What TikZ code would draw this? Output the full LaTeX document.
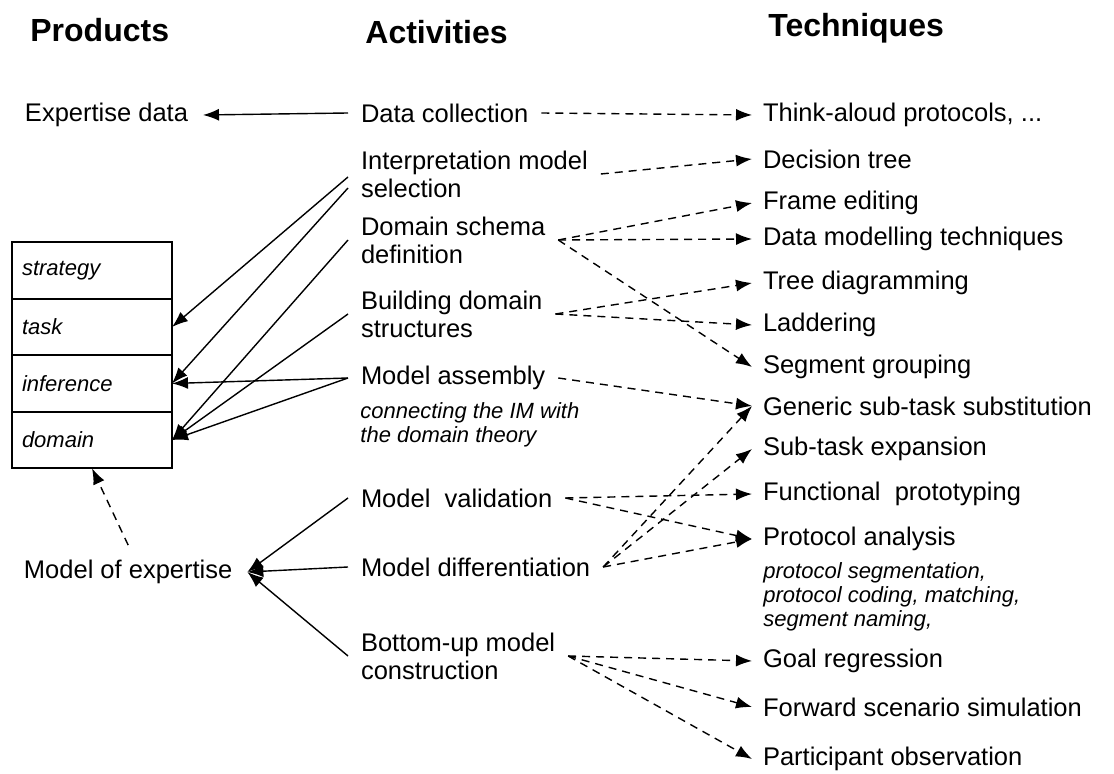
\documentclass[tikz,border=0pt]{standalone}
\usepackage{fontspec}
\setmainfont{Liberation Sans}
\usetikzlibrary{positioning}
\usetikzlibrary{arrows.meta}

\begin{document}
\begin{tikzpicture}[x=0.5pt,y=-0.5pt,
	txt/.style={inner sep=3pt, anchor=west, align=left, font=\fontsize{12.75}{14}\selectfont},
	prod/.style={txt, outer sep=4.5pt},
	act/.style={txt, outer sep=3.5pt},
	tech/.style={txt, outer sep=2.5pt},
	head/.style={inner sep=0pt, anchor=west, font=\fontsize{16}{19}\selectfont\bfseries},
	note/.style={inner sep=0pt, anchor=west, align=left, font=\fontsize{11}{12}\selectfont\itshape},
	row/.style={rectangle, draw, line width=0.8pt, outer sep=0pt, minimum height=28.25pt, text width=70pt, inner sep=5pt, align=left, font=\fontsize{11}{12}\selectfont\itshape},
	sol/.style={-{Latex[length=8pt,width=6pt]}, line width=0.7pt},
	dsh/.style={sol, dash pattern=on 4pt off 3pt}]
	\useasboundingbox (0,0) rectangle (1114,774);

	% column heads
	\node[head] (hprod) at (30,30) {Products};
	\node[head] (hact) at (365,32) {Activities};
	\node[head] (htech) at (768,28) {Techniques};

	% products
	\node[prod] (expdata) at (10,115) {Expertise data};
	\node[row] (strat) at (92,270.5) {strategy};
	\node[row, below=0pt of strat] (task) {task};
	\node[row, below=0pt of task] (infer) {inference};
	\node[row, below=0pt of infer] (dom) {domain};
	\node[prod] (moe) at (9,572) {Model of expertise};

	% activities
	\node[act] (dcoll) at (348,113) {Data collection};
	\node[act] (interp) at (348,174) {Interpretation model\\selection};
	\node[act] (dschema) at (348,240) {Domain schema\\definition};
	\node[act] (bstruct) at (348,314) {Building domain\\structures};
	\node[act] (assembly) at (348,378) {Model assembly};
	\node[note] (conn) at (360,425) {connecting the IM with\\the domain theory};
	\node[act] (valid) at (348,498) {Model~~validation};
	\node[act] (differ) at (348,567) {Model differentiation};
	\node[act] (bottomup) at (348,656) {Bottom-up model\\construction};

	% techniques
	\node[tech] (think) at (752,115) {Think-aloud protocols, ...};
	\node[tech] (dectree) at (752,159) {Decision tree};
	\node[tech] (frame) at (752,203) {Frame editing};
	\node[tech] (datamod) at (752,239) {Data modelling techniques};
	\node[tech] (treediag) at (752,283) {Tree diagramming};
	\node[tech] (ladder) at (752,325) {Laddering};
	\node[tech] (seggroup) at (752,367) {Segment grouping};
	\node[tech] (generic) at (752,406) {Generic sub-task substitution};
	\node[tech] (subexp) at (752,449) {Sub-task expansion};
	\node[tech] (funcproto) at (752,494) {Functional~~prototyping};
	\node[tech] (protan) at (752,539) {Protocol analysis};
	\node[note] (protnote) at (763,597) {protocol segmentation,\\protocol coding, matching,\\segment naming,};
	\node[tech] (goalreg) at (752,661) {Goal regression};
	\node[tech] (forward) at (752,707) {Forward scenario simulation};
	\node[tech] (particip) at (752,759) {Participant observation};

	% products <- activities
	\draw[sol] (dcoll.west) -- (expdata.east);
	\draw[sol] ([yshift=-1.5pt]interp.west) -- (task.east);
	\draw[sol] ([yshift=-7pt]interp.west) -- (infer.east);
	\draw[sol] (dschema.west) -- (dom.east);
	\draw[sol] (bstruct.west) -- (dom.east);
	\draw[sol] (assembly.west) -- (infer.east);
	\draw[sol] (assembly.west) -- (dom.east);
	\draw[sol] (valid.west) -- (moe.east);
	\draw[sol] (differ.west) -- (moe.east);
	\draw[sol] (bottomup.west) -- (moe.east);
	\draw[dsh] (moe.north) -- (dom.south);

	% activities -> techniques
	\draw[dsh] (dcoll.east) -- (think.west);
	\draw[dsh] (interp.east) -- (dectree.west);
	\draw[dsh] (dschema.east) -- (frame.west);
	\draw[dsh] (dschema.east) -- (datamod.west);
	\draw[dsh] (dschema.east) -- (seggroup.west);
	\draw[dsh] (bstruct.east) -- (treediag.west);
	\draw[dsh] (bstruct.east) -- (ladder.west);
	\draw[dsh] (assembly.east) -- (generic.west);
	\draw[dsh] (valid.east) -- (funcproto.west);
	\draw[dsh] (valid.east) -- (protan.west);
	\draw[dsh] (differ.east) -- (generic.west);
	\draw[dsh] (differ.east) -- (subexp.west);
	\draw[dsh] (differ.east) -- (protan.west);
	\draw[dsh] (bottomup.east) -- (goalreg.west);
	\draw[dsh] (bottomup.east) -- (forward.west);
	\draw[dsh] (bottomup.east) -- (particip.west);
\end{tikzpicture}
\end{document}
